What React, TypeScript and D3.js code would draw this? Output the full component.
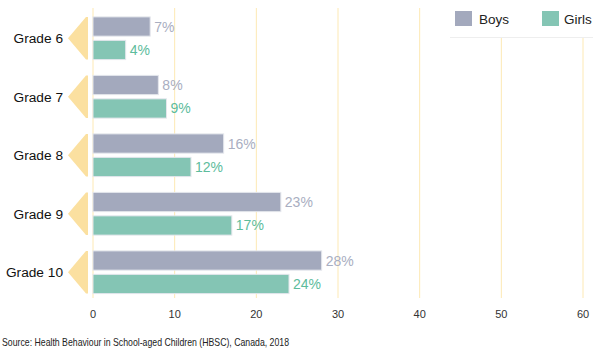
import React from "react";
import * as d3 from "d3";

const grades = ["Grade 6", "Grade 7", "Grade 8", "Grade 9", "Grade 10"];
const boys = [7, 8, 16, 23, 28];
const girls = [4, 9, 12, 17, 24];
const series = ["Boys", "Girls"];
const ticks = [0, 10, 20, 30, 40, 50, 60];
const source = "Source: Health Behaviour in School-aged Children (HBSC), Canada, 2018";

const colors = { Boys: "#a3a9bd", Girls: "#84c5b4" };
const labelColors = { Boys: "#a9aec1", Girls: "#5dbc9c" };
const FONT = "'Liberation Sans', Arial, Helvetica, sans-serif";

export default function App() {
  const W = 600, H = 351;
  const x = d3.scaleLinear().domain([0, 60]).range([93, 583]);
  const y = d3.scaleBand().domain(grades).range([9, 301.5]).paddingInner(0.27).paddingOuter(0.135);
  const inner = d3.scaleBand().domain(series).range([0, y.bandwidth()]).paddingInner(0.18);
  const vals = { Boys: boys, Girls: girls };
  return (
    <svg width={W} height={H} style={{ position: "absolute", left: 0, top: 0, fontFamily: FONT }}>
      <rect width={W} height={H} fill="#fff" />
      {ticks.map((t) => (
        <line key={t} x1={x(t)} x2={x(t)} y1={8} y2={298} stroke="#fde9b4" strokeWidth={1} />
      ))}
      {ticks.map((t) => (
        <text key={"t" + t} x={x(t)} y={318} textAnchor="middle" fontSize={11} fill="#333">{t}</text>
      ))}
      {grades.map((g, i) => {
        const y0 = y(g)!;
        const h = y.bandwidth();
        const cy = y0 + h / 2;
        return (
          <g key={g}>
            <path d={`M68,${cy} L86,${y0} L88,${y0} L88,${y0 + h} L86,${y0 + h} Z`} fill="#fbe0a0" />
            <text x={63} y={cy + 5} textAnchor="end" fontSize={13.7} fill="#111">{g}</text>
            {series.map((s) => {
              const v = vals[s][i];
              const by = y0 + inner(s)!;
              const bh = inner.bandwidth();
              return (
                <g key={s}>
                  <rect x={x(0)} y={by} width={x(v) - x(0)} height={bh} fill={colors[s]} stroke="#e4e6ec" strokeWidth={1} />
                  <text x={x(v) + 4} y={by + bh / 2 + 5} fontSize={14} fill={labelColors[s]}>{v}%</text>
                </g>
              );
            })}
          </g>
        );
      })}
      <rect x={450} y={0} width={143} height={37} fill="#fff" />
      <line x1={450} x2={593} y1={37.5} y2={37.5} stroke="#eeeeee" />
      <rect x={455} y={11} width={17} height={15} fill={colors.Boys} />
      <text x={479} y={24} fontSize={13.5} fill="#222">Boys</text>
      <rect x={542} y={11} width={17} height={15} fill={colors.Girls} />
      <text x={564} y={24} fontSize={13.5} fill="#222">Girls</text>
      <text x={2} y={346} fontSize={11} textLength={287} lengthAdjust="spacingAndGlyphs" fill="#222">{source}</text>
    </svg>
  );
}
